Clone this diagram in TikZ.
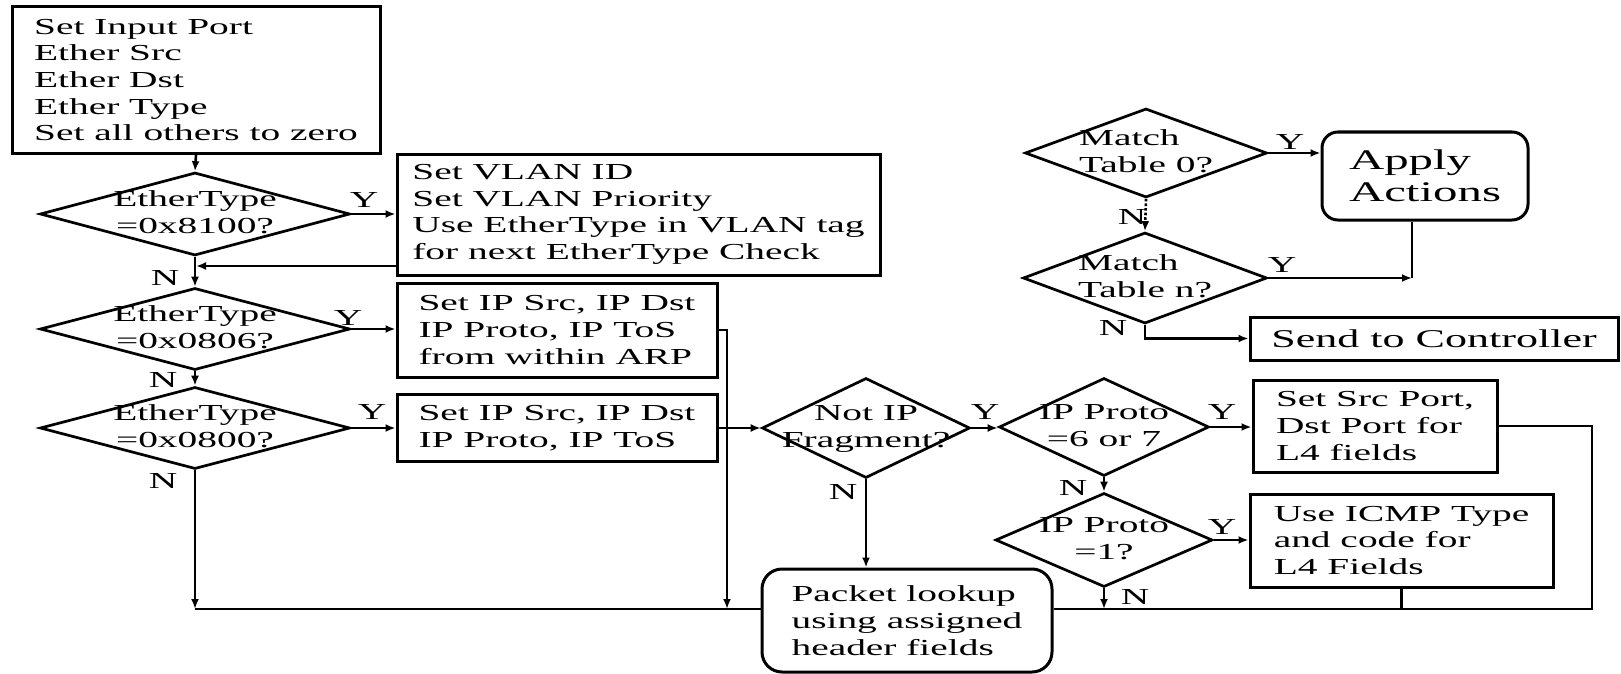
\documentclass[tikz,border=0pt]{standalone}
\usepackage{fontspec}
\setmainfont{Liberation Serif}[FakeStretch=1.72]
\usepackage{tikz}
\usetikzlibrary{shapes,arrows,positioning,calc,arrows.meta}

% text inside a decision, kept out of the diamond's size
\newcommand{\dlines}[1]{\raisebox{-3.2pt}[0pt][0pt]{\makebox[0pt]{\begin{tabular}{@{}c@{}}#1\end{tabular}}}}
\newcommand{\dleft}[1]{\raisebox{-3.2pt}[0pt][0pt]{\makebox[0pt]{\begin{tabular}{@{}l@{}}#1\end{tabular}}}}

\begin{document}
\begin{tikzpicture}[x=0.5pt, y=-0.5pt,
    font=\fontsize{11.45}{13.35}\selectfont,
    block/.style={draw, line width=1.5pt, inner sep=0pt, align=left},
    decision/.style={diamond, draw, line width=1.35pt, inner sep=0pt},
    flow/.style={line width=1.3pt, -{Latex[length=5pt,width=4pt]}},
    wire/.style={line width=1.3pt},
    tag/.style={inner sep=0pt}]
    \useasboundingbox (0,0) rectangle (1621,674);

    % EtherType checks
    \node[block, minimum width=184pt, minimum height=73pt] (init) at (196,80)
        {Set Input Port\\Ether Src\\Ether Dst\\Ether Type\\Set all others to zero};
    \node[decision, minimum width=155pt, minimum height=41.5pt] (dia1) at (195,214) {\dlines{EtherType\\=0x8100?}};
    \node[decision, minimum width=155pt, minimum height=41pt] (dia2) at (195,329) {\dlines{EtherType\\=0x0806?}};
    \node[decision, minimum width=155pt, minimum height=41pt] (dia3) at (195,428) {\dlines{EtherType\\=0x0800?}};

    \node[block, minimum width=241.5pt, minimum height=60.5pt] (vlan) at (638.5,214.5)
        {Set VLAN ID\\Set VLAN Priority\\Use EtherType in VLAN tag\\for next EtherType Check};
    \node[block, minimum width=160pt, minimum height=47pt] (arp) at (557,330)
        {Set IP Src, IP Dst\\IP Proto, IP ToS\\from within ARP};
    \node[block, minimum width=160pt, minimum height=33.5pt] (ipset) at (557,428)
        {Set IP Src, IP Dst\\IP Proto, IP ToS};

    % IP checks
    \node[decision, minimum width=104pt, minimum height=50pt] (frag) at (866,428) {\dlines{Not IP\\Fragment?}};
    \node[decision, minimum width=105pt, minimum height=49pt] (p67) at (1104,427) {\dlines{IP Proto\\=6 or 7}};
    \node[decision, minimum width=108.5pt, minimum height=47pt] (p1) at (1104,540) {\dlines{IP Proto\\=1?}};
    \node[block, minimum width=122pt, minimum height=46pt] (l4) at (1375,426)
        {Set Src Port,\\Dst Port for\\L4 fields};
    \node[block, minimum width=151.5pt, minimum height=46.5pt] (icmp) at (1401.5,540.5)
        {Use ICMP Type\\and code for\\L4 Fields};
    \node[block, rounded corners=10pt, minimum width=145pt, minimum height=51.5pt] (pkt) at (907,620.5)
        {Packet lookup\\using assigned\\header fields};

    % Tables
    \node[decision, minimum width=121pt, minimum height=44.5pt] (m0) at (1146,153) {\dleft{Match\\Table 0?}};
    \node[decision, minimum width=122pt, minimum height=45.5pt] (mn) at (1145,278) {\dleft{Match\\Table n?}};
    \node[block, rounded corners=8pt, font=\fontsize{14.2}{15.85}\selectfont, minimum width=103pt, minimum height=44pt] (apply) at (1425,176)
        {Apply\\Actions};
    \node[block, font=\fontsize{12.8}{15}\selectfont, minimum width=184pt, minimum height=21.5pt] (send) at (1434,338.5)
        {Send to Controller};

    \coordinate (bus) at (0,609);
    \coordinate (ret) at (196,266);
    \coordinate (arpdrop) at (727,330);
    \coordinate (l4loop) at (1592,426);
    \coordinate (hit) at (1412,278);

    % Connectors
    \draw[flow] (init.south) -- (dia1.north);
    \draw[flow] (dia1.south) -- (dia2.north);
    \draw[flow] (dia2.south) -- (dia3.north);
    \draw[flow] (dia1.east) -- (dia1.east -| vlan.west);
    \draw[flow] (ret -| vlan.west) -- (ret);
    \draw[flow] (dia2.east) -- (dia2.east -| arp.west);
    \draw[flow] (dia3.east) -- (dia3.east -| ipset.west);
    \draw[flow] (ipset.east) -- (ipset.east -| frag.west);
    \draw[flow] (arp.east) -- (arpdrop) -- (arpdrop |- bus);
    \draw[flow] (dia3.south) -- (dia3.south |- bus);
    \draw[wire] (dia3.south |- bus) -- (pkt.west |- bus);
    \draw[flow] (frag.south) -- (frag.south |- pkt.north);
    \draw[flow] (frag.east) -- (frag.east -| p67.west);
    \draw[flow] (p67.east) -- (p67.east -| l4.west);
    \draw[flow] (p67.south) -- (p1.north);
    \draw[flow] (p1.east) -- (p1.east -| icmp.west);
    \draw[flow] (p1.south) -- (p1.south |- bus);
    \draw[wire] (l4.east) -- (l4loop) -- (l4loop |- bus) -- (pkt.east |- bus);
    \draw[wire] (icmp.south) -- (icmp.south |- bus);
    \draw[flow] (m0.east) -- (m0.east -| apply.west);
    \draw[flow, densely dotted] (m0.south) -- (mn.north);
    \draw[wire] (apply.south -| hit) -- (hit);
    \draw[flow] (mn.east) -- (hit);
    \draw[flow] (mn.south) |- (send.west);

    % Y / N labels
    \foreach \n/\t/\x/\y in {y1/Y/364/200, n1/N/165/278, y2/Y/348/318, n2/N/163/380,
        y3/Y/372/412, n3/N/163/481, yf/Y/985/412, nf/N/843/492, y67/Y/1222/412,
        n67/N/1073/488, yp1/Y/1222/527, np1/N/1135/597, ym0/Y/1290/142,
        nm0/N/1132/217, ymn/Y/1282/265, nmn/N/1113/328}
        \node[tag] (\n) at (\x,\y) {\t};
\end{tikzpicture}
\end{document}
